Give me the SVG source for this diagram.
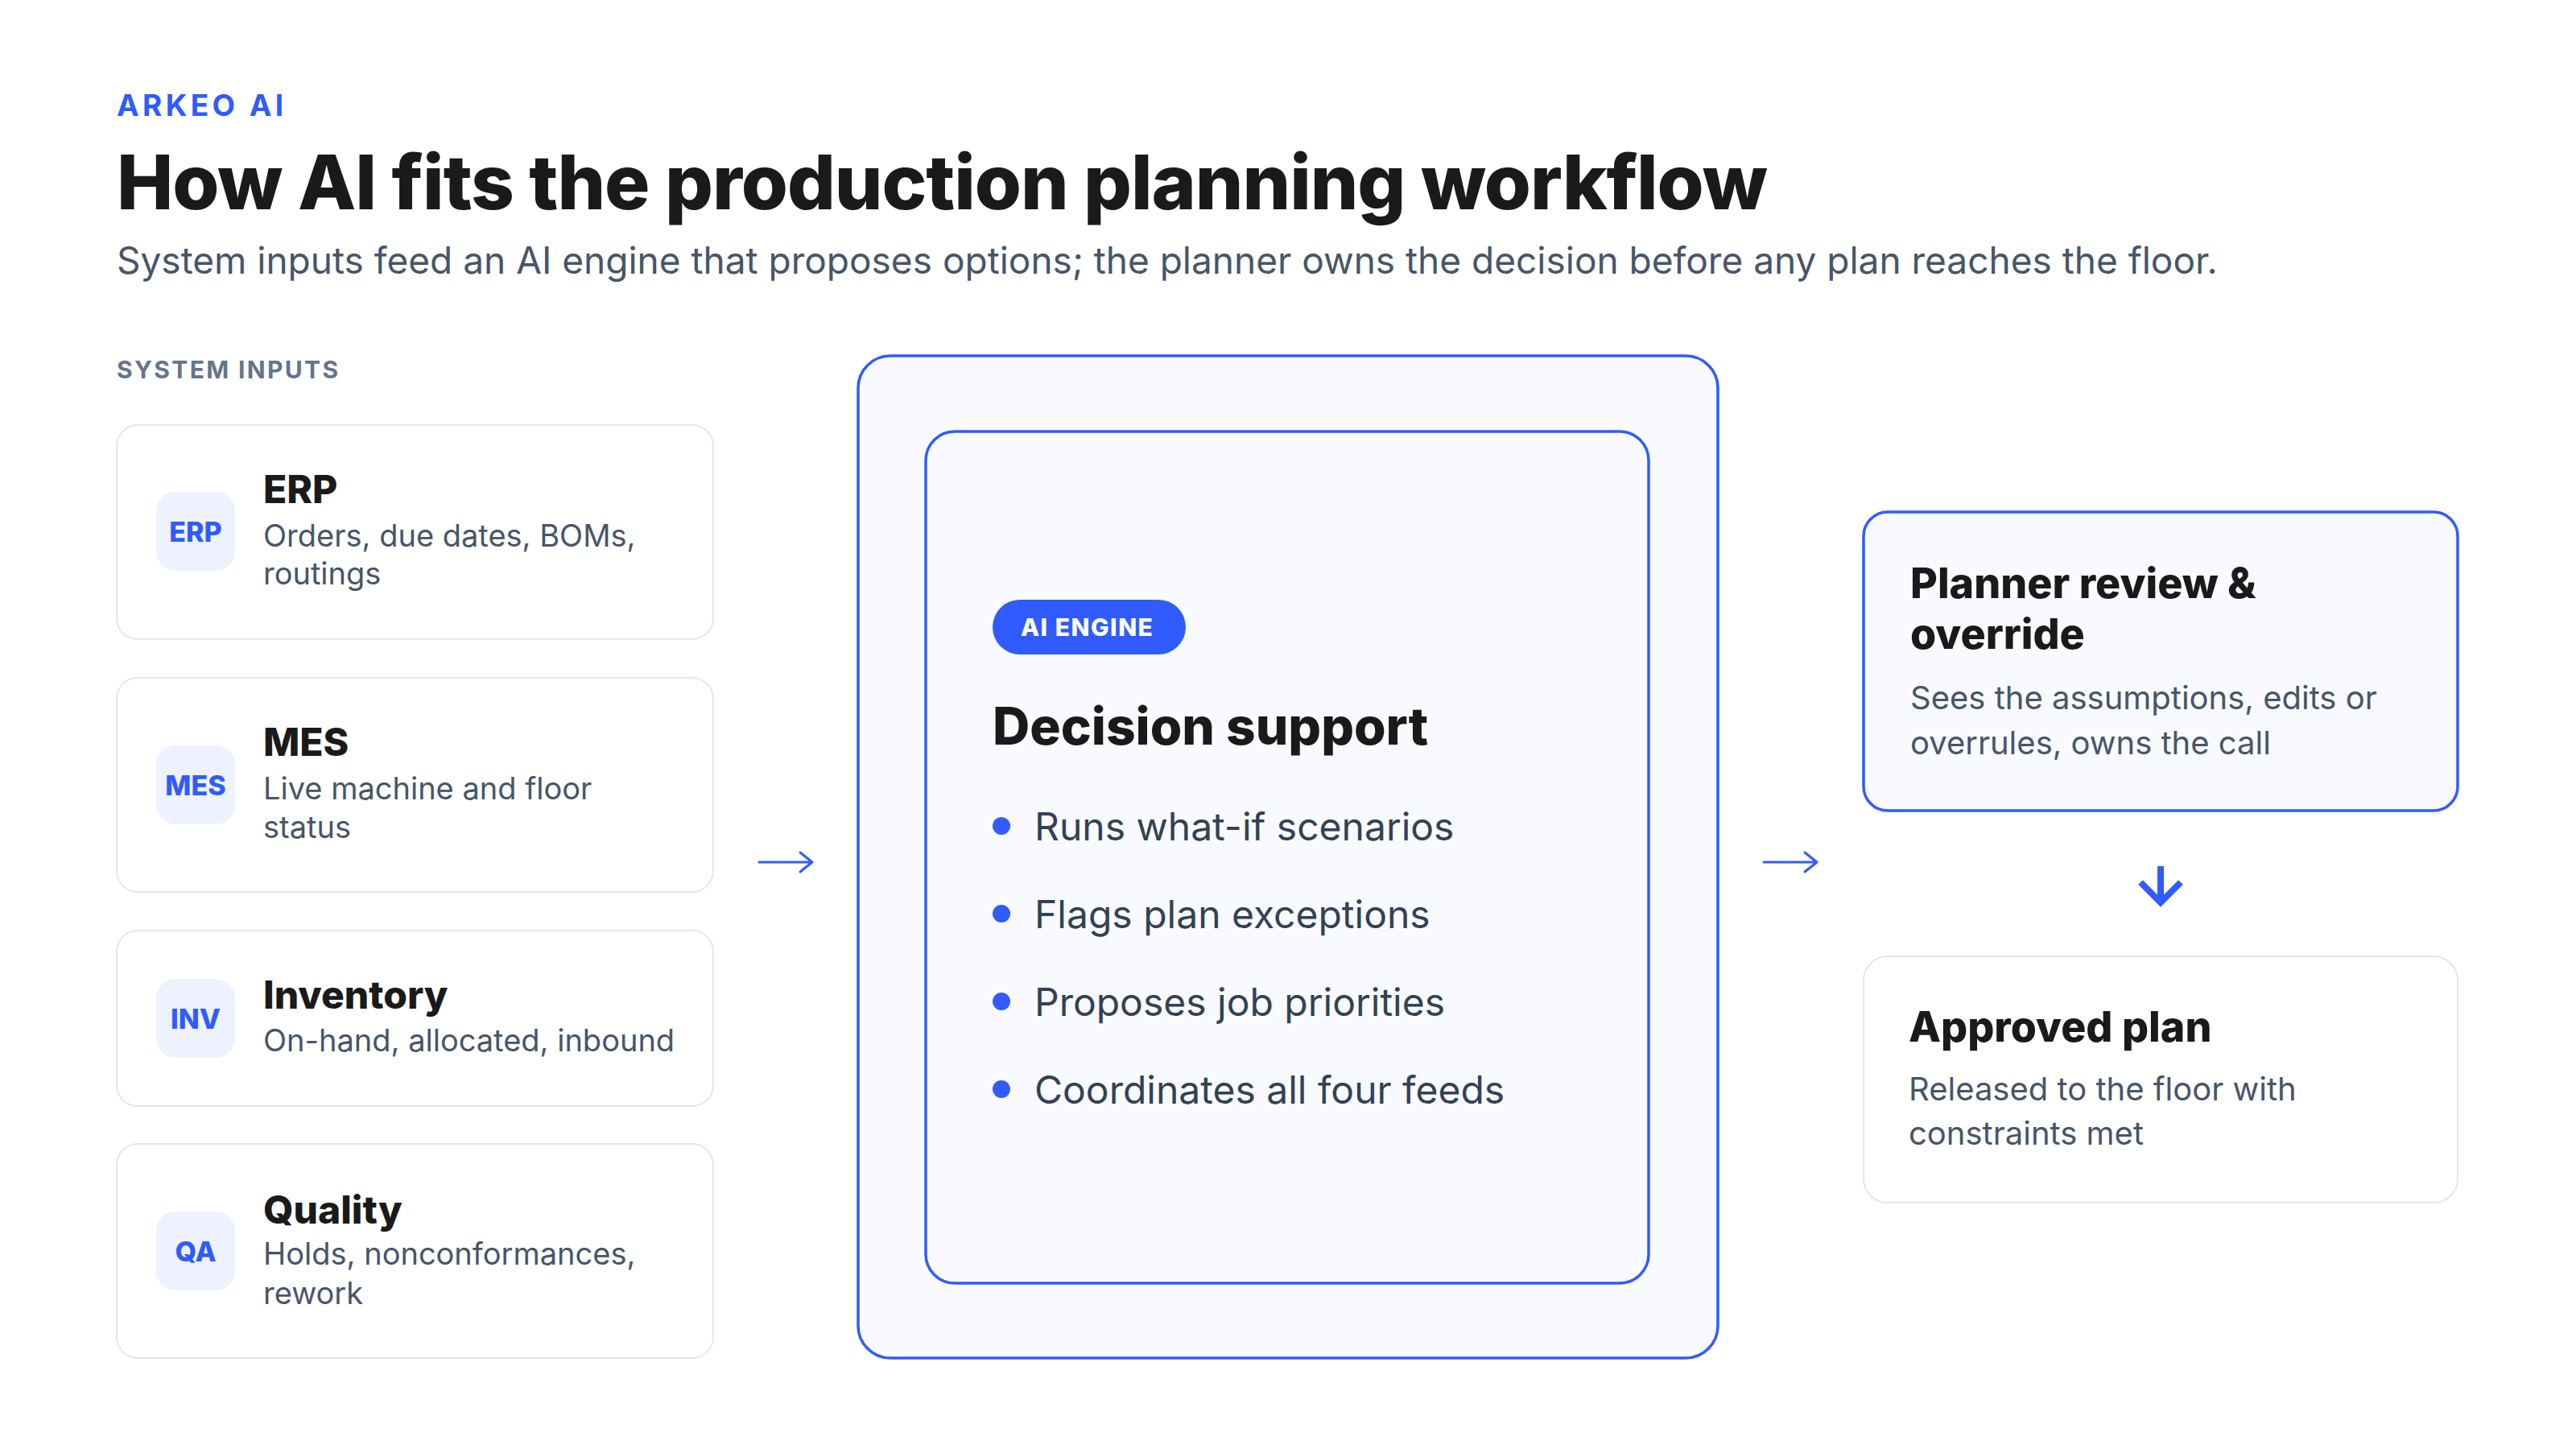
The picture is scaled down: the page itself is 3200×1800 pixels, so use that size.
<svg xmlns="http://www.w3.org/2000/svg" width="3200" height="1800" viewBox="0 0 3200 1800">
<defs>
<style>
text{font-family:Inter,"Noto Sans","Liberation Sans",sans-serif}
.eyebrow{font-size:37px;font-weight:700;fill:#2F5BFF;letter-spacing:4.4px}
.title{font-size:94px;font-weight:800;fill:#1a1a1a;letter-spacing:-1.05px}
.sub{font-size:46px;font-weight:400;fill:#475569}
.section{font-size:30px;font-weight:700;fill:#64748b;letter-spacing:2.35px}
.card{fill:#ffffff;stroke:#e5e7eb;stroke-width:2}
.badge{fill:#eef2ff}
.badgetxt{font-size:34px;font-weight:800;fill:#2F5BFF;text-anchor:middle}
.ctitle{font-size:48px;font-weight:800;fill:#1a1a1a}
.cdesc{font-size:38px;font-weight:400;fill:#475569}
.engine{fill:#f8faff;stroke:#2F5BFF;stroke-width:3.5}
.pill{fill:#2F5BFF}
.pilltxt{font-size:30px;font-weight:800;fill:#ffffff;letter-spacing:1.5px}
.dtitle{font-size:64px;font-weight:800;fill:#1a1a1a}
.bullet{fill:#2F5BFF}
.btxt{font-size:48px;font-weight:400;fill:#334155}
.rtitle{font-size:52px;font-weight:800;fill:#1a1a1a}
.rdesc{font-size:40px;font-weight:400;fill:#475569}
.arrow{fill:none;stroke:#2F5BFF;stroke-width:3;stroke-linecap:round;stroke-linejoin:round}
.arrowb{fill:none;stroke:#2F5BFF;stroke-width:8;stroke-linecap:butt;stroke-linejoin:miter}
</style>
</defs>
<rect width="3200" height="1800" fill="#ffffff"/>

<g id="header">
<text class="eyebrow" x="145" y="144">ARKEO AI</text>
<text class="title" x="145" y="260">How AI fits the production planning workflow</text>
<text class="sub" x="145" y="340">System inputs feed an AI engine that proposes options; the planner owns the decision before any plan reaches the floor.</text>
<text class="section" x="145" y="470">SYSTEM INPUTS</text>
</g>

<g id="erp">
<rect class="card" x="145" y="528" width="741" height="266" rx="26"/>
<rect class="badge" x="194" y="611" width="98" height="98" rx="24"/>
<text class="badgetxt" x="243" y="673">ERP</text>
<text class="ctitle" x="327" y="625">ERP</text>
<text class="cdesc" x="327" y="679">Orders, due dates, BOMs,</text>
<text class="cdesc" x="327" y="726">routings</text>
</g>

<g id="mes">
<rect class="card" x="145" y="842" width="741" height="266" rx="26"/>
<rect class="badge" x="194" y="926" width="98" height="98" rx="24"/>
<text class="badgetxt" x="243" y="988">MES</text>
<text class="ctitle" x="327" y="939">MES</text>
<text class="cdesc" x="327" y="993">Live machine and floor</text>
<text class="cdesc" x="327" y="1041">status</text>
</g>

<g id="inventory">
<rect class="card" x="145" y="1156" width="741" height="218" rx="26"/>
<rect class="badge" x="194" y="1216" width="98" height="98" rx="24"/>
<text class="badgetxt" x="243" y="1278">INV</text>
<text class="ctitle" x="327" y="1253">Inventory</text>
<text class="cdesc" x="327" y="1306">On-hand, allocated, inbound</text>
</g>

<g id="quality">
<rect class="card" x="145" y="1421" width="741" height="266" rx="26"/>
<rect class="badge" x="194" y="1505" width="98" height="98" rx="24"/>
<text class="badgetxt" x="243" y="1567">QA</text>
<text class="ctitle" x="327" y="1520">Quality</text>
<text class="cdesc" x="327" y="1571">Holds, nonconformances,</text>
<text class="cdesc" x="327" y="1620">rework</text>
</g>

<g id="ai-engine">
<rect class="engine" x="1066" y="442" width="1068" height="1245" rx="40"/>
<rect class="engine" x="1150" y="536" width="898" height="1058" rx="36"/>
<rect class="pill" x="1233" y="745" width="240" height="68" rx="34"/>
<text class="pilltxt" x="1268" y="790">AI ENGINE</text>
<text class="dtitle" x="1233" y="925">Decision support</text>
<circle class="bullet" cx="1244" cy="1026" r="11"/>
<text class="btxt" x="1285" y="1044">Runs what-if scenarios</text>
<circle class="bullet" cx="1244" cy="1135" r="11"/>
<text class="btxt" x="1285" y="1153">Flags plan exceptions</text>
<circle class="bullet" cx="1244" cy="1244" r="11"/>
<text class="btxt" x="1285" y="1262">Proposes job priorities</text>
<circle class="bullet" cx="1244" cy="1353" r="11"/>
<text class="btxt" x="1285" y="1371">Coordinates all four feeds</text>
</g>

<g id="planner-review">
<rect class="engine" x="2315" y="636" width="738" height="371" rx="30"/>
<text class="rtitle" x="2373" y="743">Planner review &amp;</text>
<text class="rtitle" x="2373" y="806">override</text>
<text class="rdesc" x="2373" y="881">Sees the assumptions, edits or</text>
<text class="rdesc" x="2373" y="937">overrules, owns the call</text>
</g>

<g id="approved-plan">
<rect class="card" x="2315" y="1188" width="738" height="306" rx="30"/>
<text class="rtitle" x="2371" y="1294">Approved plan</text>
<text class="rdesc" x="2371" y="1367">Released to the floor with</text>
<text class="rdesc" x="2371" y="1422">constraints met</text>
</g>

<g id="connectors">
<path class="arrow" d="M943 1071 H1008 M994 1059 L1009 1071 L994 1083"/>
<path class="arrow" d="M2191 1071 H2256 M2242 1059 L2257 1071 L2242 1083"/>
<path class="arrowb" d="M2684 1076 V1118 M2659 1096 L2684 1121 L2709 1096"/>
</g>
</svg>
